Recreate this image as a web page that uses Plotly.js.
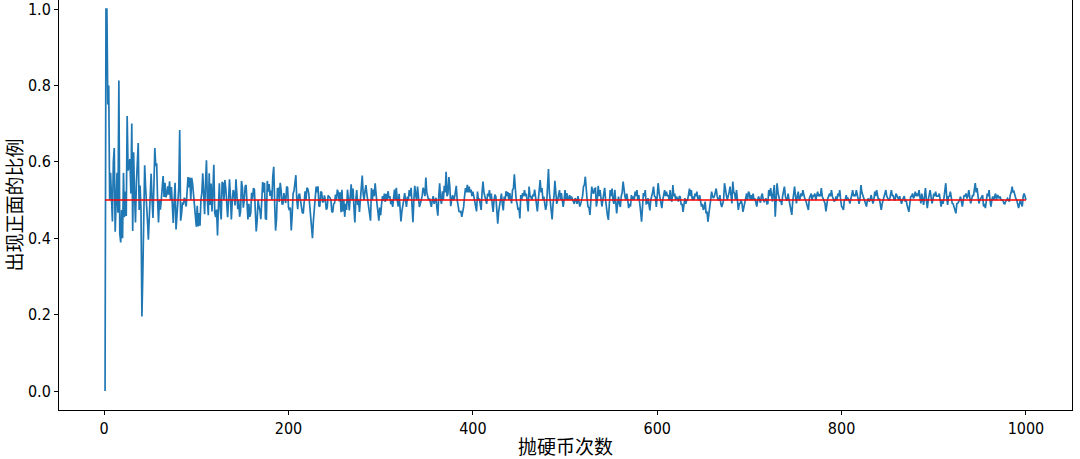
<!DOCTYPE html>
<html>
<head>
<meta charset="utf-8">
<script src="https://cdn.plot.ly/plotly-3.0.1.min.js"></script>
<style>html,body{margin:0;padding:0;background:#fff;}#chart{width:1080px;height:459px;}</style>
</head>
<body>
<div id="chart"></div>
<script>
const headRatio = [
0,1,1,0.75,0.8,0.5,0.571,0.5,0.444,0.6,
0.636,0.417,0.538,0.571,0.467,0.813,0.412,0.389,0.474,0.4,
0.571,0.455,0.522,0.458,0.72,0.577,0.593,0.607,0.517,0.7,
0.419,0.625,0.515,0.441,0.543,0.583,0.649,0.474,0.538,0.475,
0.195,0.31,0.465,0.591,0.533,0.5,0.447,0.396,0.469,0.5,
0.569,0.5,0.453,0.537,0.636,0.589,0.596,0.5,0.441,0.5,
0.475,0.5,0.524,0.563,0.508,0.545,0.507,0.515,0.536,0.514,
0.549,0.5,0.534,0.473,0.44,0.5,0.545,0.423,0.468,0.488,
0.531,0.683,0.446,0.464,0.494,0.488,0.506,0.5,0.483,0.522,
0.56,0.533,0.559,0.5,0.558,0.542,0.515,0.5,0.475,0.43,
0.485,0.431,0.466,0.433,0.5,0.519,0.57,0.509,0.463,0.545,
0.604,0.5,0.46,0.57,0.487,0.543,0.47,0.525,0.592,0.467,
0.455,0.475,0.407,0.484,0.544,0.476,0.449,0.547,0.543,0.5,
0.552,0.53,0.489,0.455,0.5,0.554,0.511,0.449,0.496,0.526,
0.518,0.486,0.554,0.521,0.476,0.5,0.456,0.47,0.55,0.533,
0.48,0.5,0.536,0.539,0.497,0.449,0.49,0.456,0.465,0.519,
0.503,0.531,0.528,0.47,0.418,0.446,0.5,0.483,0.473,0.45,
0.5,0.547,0.52,0.545,0.451,0.45,0.55,0.522,0.542,0.511,
0.525,0.5,0.563,0.587,0.492,0.42,0.449,0.529,0.53,0.495,
0.545,0.526,0.49,0.49,0.518,0.505,0.492,0.535,0.533,0.48,
0.473,0.48,0.42,0.461,0.517,0.524,0.54,0.565,0.5,0.476,
0.512,0.517,0.5,0.483,0.467,0.465,0.5,0.523,0.5,0.532,
0.529,0.517,0.487,0.457,0.44,0.4,0.445,0.484,0.5,0.535,
0.52,0.536,0.485,0.483,0.522,0.52,0.494,0.496,0.512,0.5,
0.475,0.48,0.512,0.51,0.506,0.5,0.47,0.468,0.49,0.492,
0.514,0.5,0.527,0.52,0.496,0.52,0.468,0.527,0.47,0.5,
0.456,0.49,0.474,0.527,0.5,0.473,0.51,0.541,0.5,0.53,
0.48,0.441,0.5,0.526,0.487,0.5,0.469,0.51,0.55,0.564,
0.516,0.5,0.523,0.539,0.516,0.5,0.483,0.465,0.446,0.531,
0.5,0.527,0.51,0.544,0.51,0.49,0.47,0.446,0.48,0.46,
0.49,0.51,0.498,0.517,0.495,0.516,0.5,0.523,0.505,0.51,
0.489,0.5,0.482,0.51,0.527,0.5,0.532,0.5,0.483,0.516,
0.48,0.444,0.47,0.494,0.5,0.518,0.5,0.482,0.509,0.5,
0.526,0.51,0.532,0.47,0.442,0.5,0.537,0.512,0.5,0.535,
0.51,0.482,0.49,0.5,0.51,0.532,0.525,0.51,0.559,0.52,
0.51,0.5,0.504,0.49,0.482,0.5,0.51,0.49,0.5,0.506,
0.48,0.459,0.51,0.544,0.5,0.49,0.523,0.5,0.537,0.52,
0.574,0.51,0.517,0.56,0.536,0.484,0.5,0.513,0.5,0.505,
0.52,0.537,0.5,0.482,0.47,0.469,0.47,0.456,0.47,0.482,
0.51,0.531,0.52,0.54,0.52,0.535,0.52,0.527,0.51,0.522,
0.51,0.496,0.48,0.47,0.522,0.5,0.504,0.487,0.474,0.52,
0.548,0.52,0.513,0.5,0.49,0.517,0.51,0.526,0.5,0.517,
0.49,0.469,0.5,0.514,0.508,0.48,0.438,0.47,0.483,0.5,
0.517,0.49,0.473,0.509,0.5,0.523,0.51,0.521,0.5,0.518,
0.5,0.491,0.526,0.53,0.567,0.53,0.5,0.49,0.474,0.48,
0.452,0.513,0.5,0.518,0.51,0.526,0.51,0.517,0.49,0.47,
0.535,0.51,0.508,0.5,0.514,0.51,0.527,0.504,0.49,0.47,
0.5,0.527,0.552,0.52,0.531,0.5,0.509,0.49,0.474,0.487,
0.53,0.581,0.52,0.5,0.47,0.449,0.49,0.51,0.55,0.51,
0.49,0.5,0.513,0.526,0.5,0.518,0.5,0.482,0.5,0.526,
0.5,0.518,0.5,0.504,0.513,0.5,0.509,0.5,0.496,0.49,
0.505,0.5,0.49,0.51,0.5,0.483,0.49,0.5,0.51,0.535,
0.54,0.561,0.522,0.5,0.482,0.48,0.461,0.5,0.535,0.52,
0.517,0.53,0.531,0.483,0.5,0.537,0.51,0.526,0.5,0.483,
0.5,0.517,0.532,0.5,0.47,0.46,0.448,0.49,0.526,0.51,
0.53,0.5,0.49,0.527,0.5,0.465,0.49,0.509,0.49,0.482,
0.51,0.52,0.548,0.52,0.509,0.5,0.517,0.5,0.479,0.49,
0.483,0.513,0.5,0.509,0.5,0.522,0.51,0.526,0.5,0.513,
0.479,0.47,0.443,0.5,0.518,0.51,0.526,0.49,0.491,0.505,
0.49,0.473,0.5,0.517,0.52,0.535,0.51,0.508,0.482,0.51,
0.544,0.52,0.509,0.49,0.479,0.5,0.513,0.526,0.51,0.522,
0.51,0.513,0.5,0.526,0.5,0.496,0.539,0.51,0.517,0.5,
0.509,0.5,0.496,0.51,0.508,0.487,0.49,0.469,0.49,0.505,
0.49,0.5,0.5,0.513,0.53,0.51,0.526,0.5,0.509,0.5,
0.517,0.51,0.522,0.504,0.5,0.513,0.5,0.483,0.49,0.474,
0.48,0.496,0.465,0.47,0.443,0.47,0.483,0.5,0.522,0.51,
0.505,0.51,0.526,0.53,0.51,0.5,0.5,0.513,0.49,0.482,
0.49,0.5,0.544,0.52,0.513,0.5,0.509,0.52,0.535,0.5,
0.491,0.548,0.52,0.517,0.5,0.526,0.5,0.474,0.49,0.491,
0.5,0.49,0.469,0.48,0.496,0.51,0.517,0.5,0.522,0.517,
0.5,0.513,0.5,0.517,0.5,0.504,0.49,0.483,0.5,0.509,
0.5,0.493,0.51,0.517,0.5,0.496,0.5,0.504,0.49,0.491,
0.526,0.51,0.531,0.51,0.496,0.52,0.539,0.456,0.5,0.544,
0.52,0.504,0.496,0.5,0.487,0.51,0.531,0.535,0.51,0.5,
0.5,0.517,0.5,0.483,0.47,0.461,0.496,0.51,0.535,0.51,
0.491,0.51,0.522,0.5,0.504,0.517,0.51,0.526,0.51,0.504,
0.5,0.491,0.48,0.474,0.504,0.51,0.517,0.5,0.513,0.51,
0.517,0.5,0.509,0.522,0.51,0.513,0.51,0.531,0.51,0.504,
0.5,0.491,0.47,0.49,0.504,0.51,0.517,0.51,0.526,0.51,
0.504,0.496,0.5,0.509,0.5,0.517,0.51,0.526,0.5,0.483,
0.48,0.474,0.5,0.5,0.513,0.5,0.504,0.5,0.491,0.5,
0.513,0.526,0.51,0.513,0.51,0.526,0.51,0.5,0.49,0.504,
0.539,0.52,0.513,0.51,0.5,0.49,0.483,0.5,0.504,0.496,
0.5,0.513,0.5,0.491,0.5,0.522,0.51,0.526,0.513,0.5,
0.504,0.49,0.474,0.49,0.5,0.51,0.517,0.526,0.51,0.504,
0.5,0.5,0.51,0.526,0.51,0.513,0.5,0.5,0.517,0.51,
0.504,0.5,0.51,0.5,0.49,0.5,0.504,0.51,0.496,0.5,
0.487,0.48,0.469,0.49,0.509,0.51,0.517,0.504,0.51,0.522,
0.51,0.517,0.51,0.526,0.5,0.491,0.517,0.5,0.487,0.51,
0.531,0.5,0.479,0.5,0.513,0.526,0.51,0.491,0.5,0.517,
0.51,0.522,0.51,0.509,0.51,0.517,0.49,0.483,0.5,0.49,
0.504,0.52,0.544,0.51,0.487,0.509,0.51,0.522,0.5,0.491,
0.49,0.483,0.47,0.465,0.49,0.491,0.496,0.5,0.509,0.49,
0.483,0.5,0.513,0.51,0.517,0.504,0.51,0.526,0.5,0.491,
0.5,0.513,0.51,0.526,0.544,0.52,0.531,0.51,0.491,0.5,
0.504,0.51,0.513,0.483,0.49,0.479,0.5,0.517,0.51,0.526,
0.5,0.483,0.5,0.509,0.5,0.51,0.517,0.5,0.513,0.51,
0.504,0.509,0.5,0.5,0.5,0.491,0.49,0.496,0.5,0.504,
0.5,0.496,0.513,0.52,0.535,0.52,0.522,0.51,0.504,0.5,
0.491,0.479,0.49,0.5,0.49,0.483,0.51,0.517,0.51,0.5
];
const tossCounts = headRatio.map((_, i) => i + 1);   // 1 .. 1000
const fairProbability = 0.5;
const xTickValues = [0, 200, 400, 600, 800, 1000];
const yTickValues = [0, 0.2, 0.4, 0.6, 0.8, 1.0];
const yTickLabels = ['0.0', '0.2', '0.4', '0.6', '0.8', '1.0'];
const xTitle = '抛硬币次数';
const yTitle = '出现正面的比例';

const tickFont = {family: '"Liberation Sans Narrow", "DejaVu Sans Condensed", "Noto Sans CJK SC", sans-serif', size: 16, color: '#000'};
const titleFont = {family: '"Noto Sans CJK SC", sans-serif', size: 19, color: '#000'};

const traces = [
  {
    x: tossCounts, y: headRatio, type: 'scatter', mode: 'lines',
    line: {color: '#1f77b4', width: 1.7}, hoverinfo: 'x+y', showlegend: false
  },
  {
    x: [tossCounts[0], tossCounts[tossCounts.length - 1]],
    y: [fairProbability, fairProbability],
    type: 'scatter', mode: 'lines',
    line: {color: '#ff0000', width: 1.5}, showlegend: false
  }
];

const layout = {
  width: 1080, height: 459,
  margin: {l: 59, r: 8, t: 0, b: 49},
  paper_bgcolor: '#fff', plot_bgcolor: '#fff',
  showlegend: false,
  xaxis: {
    range: [-48.95, 1049.95], tickvals: xTickValues, ticktext: xTickValues.map(String),
    showgrid: false, zeroline: false, showline: true, linecolor: '#000', linewidth: 1,
    mirror: false, ticks: 'outside', ticklen: 4, tickwidth: 1, tickcolor: '#000',
    tickfont: tickFont, automargin: false, ticklabeloverflow: 'allow',
    title: {text: xTitle, font: titleFont, standoff: 4}
  },
  yaxis: {
    range: [-0.0497, 1.0236], tickvals: yTickValues, ticktext: yTickLabels,
    showgrid: false, zeroline: false, showline: true, linecolor: '#000', linewidth: 1,
    mirror: true, ticks: 'outside', ticklen: 4, tickwidth: 1, tickcolor: '#000',
    tickfont: tickFont, automargin: false, ticklabeloverflow: 'allow',
    title: {text: yTitle, font: titleFont, standoff: 4}
  }
};

Plotly.newPlot('chart', traces, layout, {displayModeBar: false, staticPlot: true});
</script>
</body>
</html>
